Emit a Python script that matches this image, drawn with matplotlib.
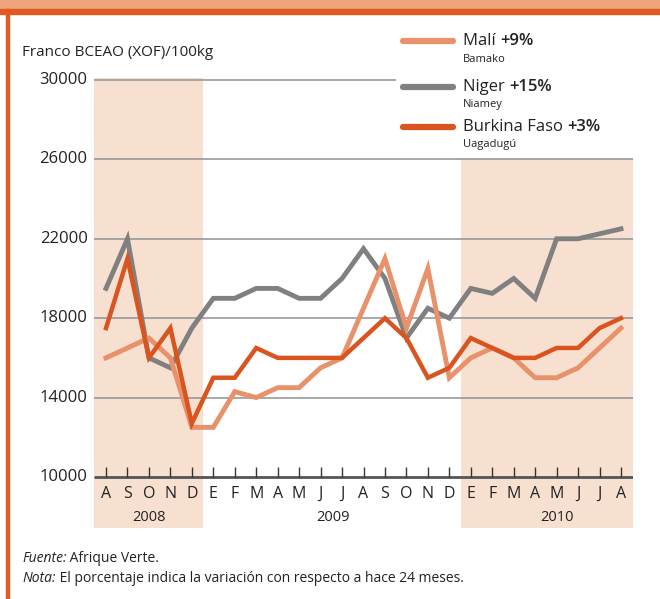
import matplotlib
matplotlib.use('Agg')
import matplotlib.pyplot as plt
from matplotlib.patches import Rectangle
from matplotlib.lines import Line2D
import numpy as np

plt.rcParams['font.family'] = ['Open Sans', 'DejaVu Sans']

# Data: Aug 2008 .. Aug 2010
months = ['A', 'S', 'O', 'N', 'D', 'E', 'F', 'M', 'A', 'M', 'J', 'J',
          'A', 'S', 'O', 'N', 'D', 'E', 'F', 'M', 'A', 'M', 'J', 'J', 'A']
years = ['2008', '2009', '2010']
mali = [16000, 16500, 17000, 16000, 12500, 12500, 14300, 14000, 14500, 14500, 15500, 16000,
        18500, 21000, 17500, 20500, 15000, 16000, 16500, 16000, 15000, 15000, 15500, 16500, 17500]
niger = [19500, 22000, 16000, 15500, 17500, 19000, 19000, 19500, 19500, 19000, 19000, 20000,
         21500, 20000, 17000, 18500, 18000, 19500, 19250, 20000, 19000, 22000, 22000, 22250, 22500]
burkina = [17500, 21000, 16000, 17500, 12700, 15000, 15000, 16500, 16000, 16000, 16000, 16000,
           17000, 18000, 17000, 15000, 15500, 17000, 16500, 16000, 16000, 16500, 16500, 17500, 18000]
yticks = [10000, 14000, 18000, 22000, 26000, 30000]

c_mali = '#E8916A'
c_niger = '#808080'
c_burk = '#D9541E'
c_shade = '#F8E0D0'

fig = plt.figure(figsize=(6.6, 5.99), dpi=100)

# frame decorations
fig.patches.append(Rectangle((0, 1 - 9 / 599), 1, 9 / 599, transform=fig.transFigure,
                             color='#EEA57E', zorder=0))
fig.patches.append(Rectangle((0, 1 - 14 / 599), 1, 5 / 599, transform=fig.transFigure,
                             color='#E05A20', zorder=0))
fig.patches.append(Rectangle((6 / 660, 0), 3 / 660, 1 - 9 / 599, transform=fig.transFigure,
                             color='#E05A20', zorder=0))

ax = fig.add_axes([94 / 660, (599 - 528) / 599, 539 / 660, 450 / 599])
x = np.arange(len(months))
xmin, xmax = -0.56, 24.56
ymin, ymax = 7430, 30100
ax.set_xlim(xmin, xmax)
ax.set_ylim(ymin, ymax)
ax.axis('off')

ax.axvspan(xmin, 4.52, color=c_shade, lw=0, zorder=0)
ax.axvspan(16.54, xmax, ymax=(26000 - ymin) / (ymax - ymin), color=c_shade, lw=0, zorder=0)

for v in yticks[1:-1]:
    ax.hlines(v, xmin, xmax, color='#999999', lw=1.2, zorder=1)
ax.hlines(30000, xmin, 13.5, color='#999999', lw=1.2, zorder=1)
ax.hlines(10000, xmin, xmax, color='#555555', lw=2, zorder=3)
ax.vlines(x, 10000, 10500, color='#333333', lw=1, zorder=3)

for v in yticks:
    ax.text(xmin - 0.3, v, str(v), ha='right', va='center', fontsize=12, color='#222222')
for i, m in enumerate(months):
    ax.text(i, 9150, m, ha='center', va='center', fontsize=11.5, color='#222222')
for xp, yr in zip([2, 10.6, 21], years):
    ax.text(xp, 7980, yr, ha='center', va='center', fontsize=10.5, color='#222222')

ax.plot(x, niger, color=c_niger, lw=3.5, zorder=4, solid_joinstyle='miter')
ax.plot(x, mali, color=c_mali, lw=3.5, zorder=5, solid_joinstyle='miter')
ax.plot(x, burkina, color=c_burk, lw=3.2, zorder=6, solid_joinstyle='miter')

fig.text(22 / 660, 1 - 52 / 599, 'Franco BCEAO (XOF)/100kg', ha='left', va='center',
         fontsize=11, color='#222222')

# legend
entries = [(c_mali, 'Malí ', '+9%', 'Bamako', 41),
           (c_niger, 'Niger ', '+15%', 'Niamey', 87),
           (c_burk, 'Burkina Faso ', '+3%', 'Uagadugú', 127)]
fig.canvas.draw()
r = fig.canvas.get_renderer()
for col, name, pct, city, yp in entries:
    fig.add_artist(Line2D([403 / 660, 453 / 660], [1 - yp / 599] * 2, color=col, lw=4.5,
                          solid_capstyle='round', transform=fig.transFigure))
    t = fig.text(463 / 660, 1 - yp / 599, name, ha='left', va='center', fontsize=12,
                 color='#222222')
    bb = t.get_window_extent(r)
    fig.text(bb.x1 / fig.bbox.width, 1 - yp / 599, pct, ha='left', va='center', fontsize=12,
             fontweight='semibold', color='#222222')
    fig.text(463 / 660, 1 - (yp + 18) / 599, city, ha='left', va='center', fontsize=8,
             color='#222222')

# notes
for lab, rest, yp in [('Fuente:', ' Afrique Verte.', 559), ('Nota:', ' El porcentaje indica la variación con respecto a hace 24 meses.', 578)]:
    t = fig.text(22 / 660, 1 - yp / 599, lab, ha='left', va='center', fontsize=10,
                 style='italic', color='#222222')
    bb = t.get_window_extent(r)
    fig.text(bb.x1 / fig.bbox.width, 1 - yp / 599, rest, ha='left', va='center', fontsize=10,
             color='#222222')

fig.savefig('out.png', dpi=100)
